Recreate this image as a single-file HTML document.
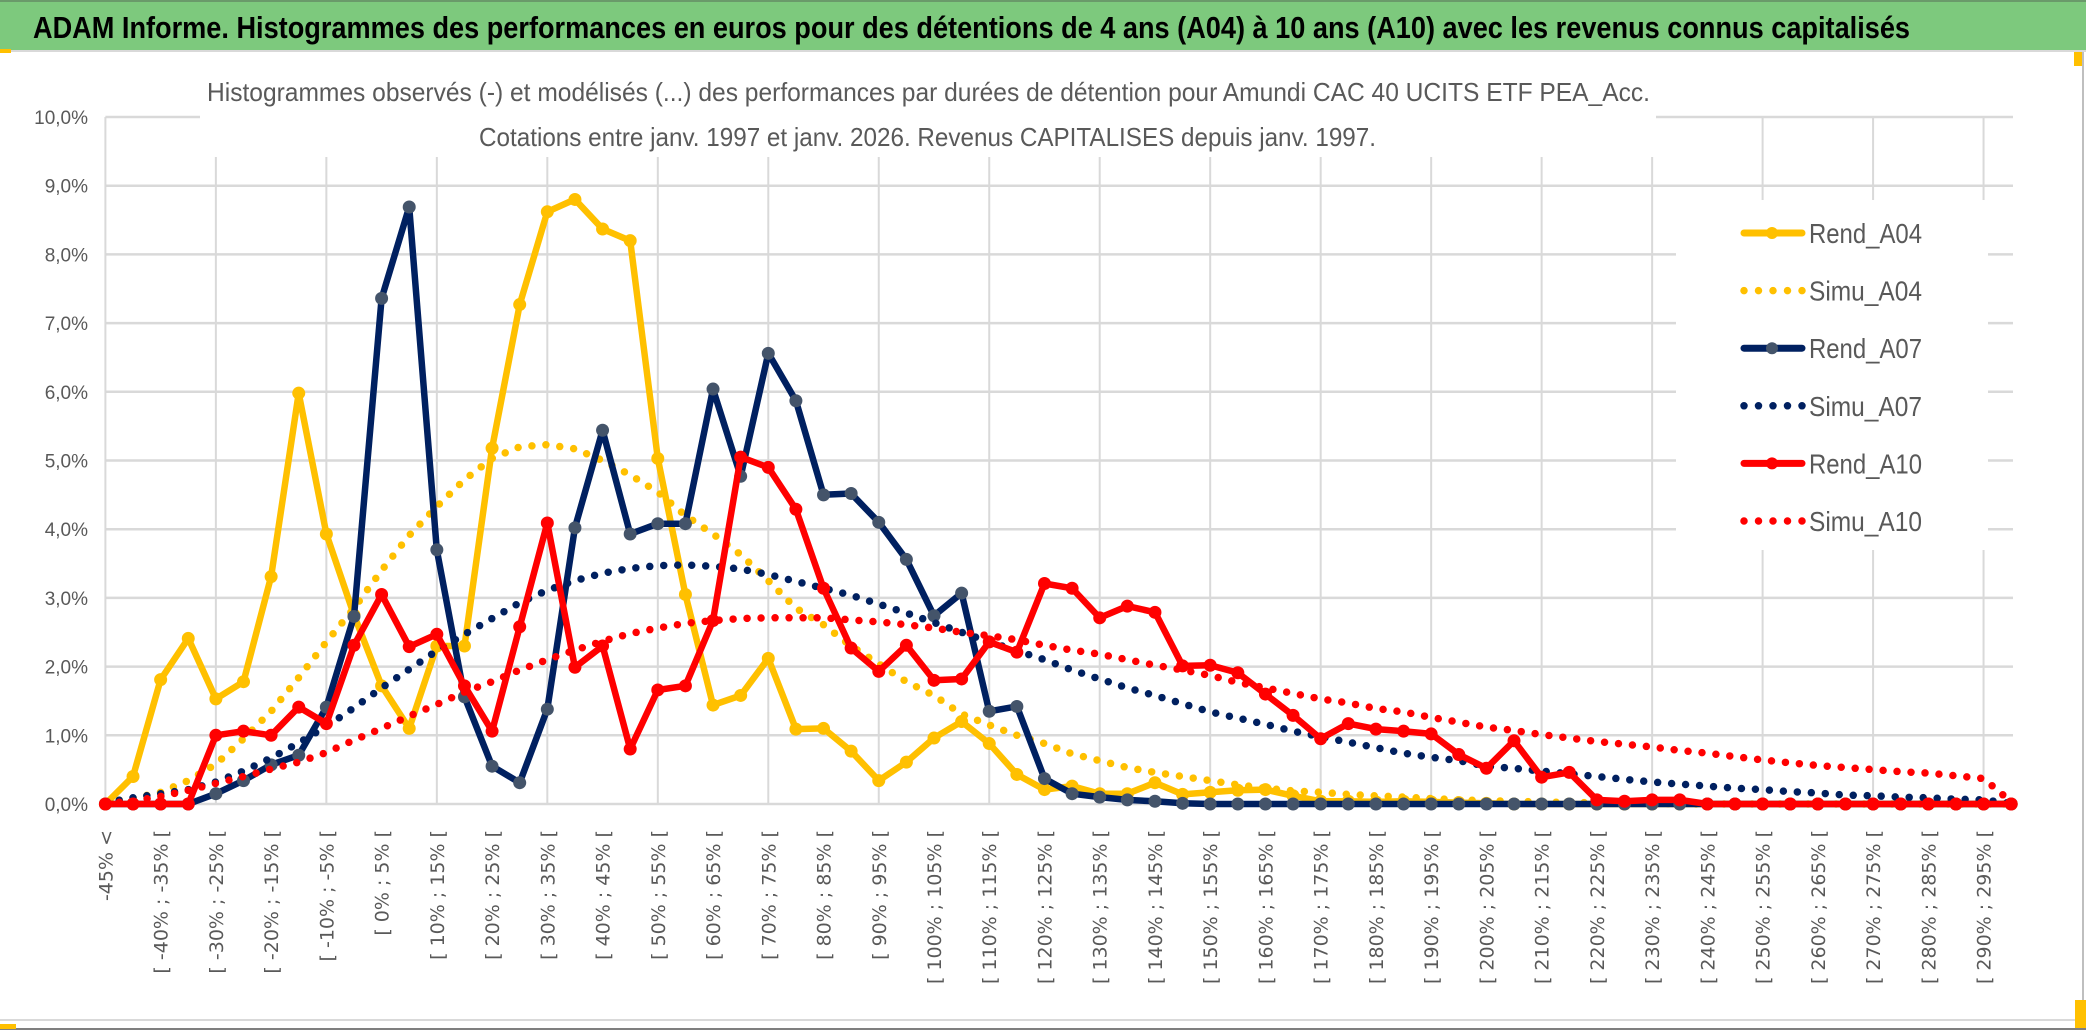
<!DOCTYPE html>
<html><head><meta charset="utf-8">
<style>
html,body{margin:0;padding:0;background:#fff;}
svg{display:block;}
text{font-family:"Liberation Sans Narrow","Liberation Sans",sans-serif;}
.xl{font-family:"DejaVu Sans","Liberation Sans",sans-serif;font-size:19px;fill:#595959;}
</style></head>
<body>
<svg id="chart" width="2086" height="1031" viewBox="0 0 2086 1031" xmlns="http://www.w3.org/2000/svg">
  <rect x="0" y="0" width="2086" height="1031" fill="#fff"/>
  <rect x="0" y="0" width="2086" height="50" fill="#7dc97d"/>
  <line x1="0" y1="1" x2="2086" y2="1" stroke="#6a9a6a" stroke-width="2"/>
  <line x1="0" y1="51" x2="2086" y2="51" stroke="#d9d9d9" stroke-width="2"/>
  <text x="33" y="38" font-size="31" font-weight="bold" fill="#000" textLength="1877" lengthAdjust="spacingAndGlyphs">ADAM Informe. Histogrammes des performances en euros pour des détentions de 4 ans (A04) à 10 ans (A10) avec les revenus connus capitalisés</text>
  <rect x="0" y="49" width="11" height="4" fill="#ffc000"/>
  <rect x="2074" y="52" width="8" height="14" fill="#ffc000"/>
  <line x1="2083" y1="52" x2="2083" y2="1028" stroke="#bfbfbf" stroke-width="2"/>
  <line x1="0" y1="1020" x2="2083" y2="1020" stroke="#d9d9d9" stroke-width="2"/>
  <line x1="0" y1="1029" x2="2086" y2="1029" stroke="#7f7f7f" stroke-width="2"/>
  <rect x="2075" y="1000" width="11" height="28" fill="#ffc000"/>
  <rect x="0" y="1024" width="16" height="5" fill="#ffc000"/>
  <g id="grid"></g>
  <g id="yaxis"></g>
  <rect x="200" y="60" width="1456" height="97" fill="#fff"/>
  <text x="207" y="101" font-size="26" fill="#595959" textLength="1443" lengthAdjust="spacingAndGlyphs">Histogrammes observés (-) et modélisés (...) des performances par durées de détention pour Amundi CAC 40 UCITS ETF PEA_Acc.</text>
  <text x="479" y="146" font-size="26" fill="#595959" textLength="897" lengthAdjust="spacingAndGlyphs">Cotations entre janv. 1997 et janv. 2026. Revenus CAPITALISES depuis janv. 1997.</text>
  <rect x="1676" y="200" width="312" height="350" fill="#fff"/>
  <g id="xaxis"></g>
  <g id="series"></g>
  <g id="legend"></g>
</svg>
<script>
const categories = ["-45% <","[ -45% ; -40% [","[ -40% ; -35% [","[ -35% ; -30% [","[ -30% ; -25% [","[ -25% ; -20% [","[ -20% ; -15% [","[ -15% ; -10% [","[ -10% ; -5% [","[ -5% ; 0% [","[ 0% ; 5% [","[ 5% ; 10% [","[ 10% ; 15% [","[ 15% ; 20% [","[ 20% ; 25% [","[ 25% ; 30% [","[ 30% ; 35% [","[ 35% ; 40% [","[ 40% ; 45% [","[ 45% ; 50% [","[ 50% ; 55% [","[ 55% ; 60% [","[ 60% ; 65% [","[ 65% ; 70% [","[ 70% ; 75% [","[ 75% ; 80% [","[ 80% ; 85% [","[ 85% ; 90% [","[ 90% ; 95% [","[ 95% ; 100% [","[ 100% ; 105% [","[ 105% ; 110% [","[ 110% ; 115% [","[ 115% ; 120% [","[ 120% ; 125% [","[ 125% ; 130% [","[ 130% ; 135% [","[ 135% ; 140% [","[ 140% ; 145% [","[ 145% ; 150% [","[ 150% ; 155% [","[ 155% ; 160% [","[ 160% ; 165% [","[ 165% ; 170% [","[ 170% ; 175% [","[ 175% ; 180% [","[ 180% ; 185% [","[ 185% ; 190% [","[ 190% ; 195% [","[ 195% ; 200% [","[ 200% ; 205% [","[ 205% ; 210% [","[ 210% ; 215% [","[ 215% ; 220% [","[ 220% ; 225% [","[ 225% ; 230% [","[ 230% ; 235% [","[ 235% ; 240% [","[ 240% ; 245% [","[ 245% ; 250% [","[ 250% ; 255% [","[ 255% ; 260% [","[ 260% ; 265% [","[ 265% ; 270% [","[ 270% ; 275% [","[ 275% ; 280% [","[ 280% ; 285% [","[ 285% ; 290% [","[ 290% ; 295% [","[ 295% ; 300% ["];
const yTicks = [0,1,2,3,4,5,6,7,8,9,10];
const yTickLabels = ["0,0%","1,0%","2,0%","3,0%","4,0%","5,0%","6,0%","7,0%","8,0%","9,0%","10,0%"];
const rendA04 = [0,0.40,1.81,2.41,1.53,1.78,3.31,5.98,3.93,2.75,1.72,1.10,2.30,2.30,5.18,7.27,8.62,8.80,8.37,8.20,5.03,3.05,1.44,1.58,2.12,1.09,1.10,0.77,0.34,0.61,0.96,1.20,0.88,0.43,0.21,0.26,0.15,0.15,0.31,0.14,0.17,0.20,0.21,0.12,0.04,0.04,0.03,0.04,0.03,0.02,0.01,0,0,0,0,0,0,0,0,0,0,0,0,0,0,0,0,0,0,0];
const simuA04 = [0.03,0.08,0.17,0.34,0.58,0.95,1.35,1.84,2.36,2.85,3.40,3.91,4.33,4.72,5.03,5.20,5.23,5.17,5.00,4.79,4.54,4.20,3.93,3.63,3.25,2.85,2.61,2.30,2.04,1.78,1.58,1.31,1.15,1.00,0.88,0.73,0.63,0.53,0.46,0.40,0.34,0.28,0.23,0.19,0.17,0.14,0.12,0.10,0.08,0.06,0.05,0.04,0.03,0.02,0.02,0.01,0.01,0,0,0,0,0,0,0,0,0,0,0,0,0];
const rendA07 = [0,0,0,0,0.15,0.34,0.57,0.71,1.41,2.73,7.36,8.69,3.70,1.56,0.55,0.31,1.38,4.02,5.44,3.93,4.08,4.08,6.04,4.77,6.56,5.87,4.50,4.52,4.10,3.56,2.74,3.07,1.35,1.42,0.37,0.15,0.10,0.06,0.04,0.01,0,0,0,0,0,0,0,0,0,0,0,0,0,0,0,0,0,0,0,0,0,0,0,0,0,0,0,0,0,0];
const simuA07 = [0.02,0.09,0.15,0.21,0.32,0.48,0.67,0.89,1.13,1.40,1.69,1.96,2.23,2.47,2.70,2.93,3.11,3.25,3.36,3.43,3.47,3.48,3.46,3.42,3.34,3.24,3.14,3.04,2.91,2.78,2.64,2.50,2.36,2.23,2.10,1.95,1.82,1.69,1.58,1.46,1.34,1.25,1.16,1.06,0.98,0.90,0.82,0.74,0.68,0.63,0.55,0.52,0.48,0.44,0.40,0.36,0.32,0.29,0.26,0.23,0.21,0.18,0.16,0.13,0.12,0.10,0.09,0.07,0.06,0.01];
const rendA10 = [0,0,0,0,1.00,1.06,1.00,1.41,1.17,2.31,3.05,2.29,2.47,1.72,1.06,2.58,4.09,1.99,2.30,0.80,1.66,1.72,2.67,5.05,4.90,4.29,3.14,2.27,1.93,2.31,1.80,1.82,2.36,2.21,3.21,3.14,2.71,2.88,2.79,2.01,2.02,1.91,1.60,1.29,0.95,1.17,1.09,1.06,1.02,0.72,0.52,0.92,0.39,0.46,0.06,0.04,0.06,0.06,0,0,0,0,0,0,0,0,0,0,0,0];
const simuA10 = [0.01,0.04,0.11,0.20,0.30,0.40,0.51,0.61,0.75,0.93,1.10,1.28,1.45,1.63,1.78,1.95,2.10,2.24,2.37,2.48,2.56,2.63,2.67,2.70,2.71,2.71,2.71,2.68,2.65,2.61,2.56,2.50,2.45,2.39,2.31,2.24,2.18,2.10,2.02,1.95,1.87,1.77,1.69,1.61,1.53,1.47,1.39,1.34,1.26,1.19,1.12,1.07,1.01,0.96,0.91,0.87,0.83,0.78,0.74,0.69,0.64,0.60,0.56,0.53,0.50,0.47,0.45,0.41,0.37,0.03];
const seriesNames = ["Rend_A04","Simu_A04","Rend_A07","Simu_A07","Rend_A10","Simu_A10"];

const NS = "http://www.w3.org/2000/svg";
const X0 = 105.4, DX = 27.62, Y0 = 804, DY = 68.7;
function xPos(i){ return X0 + DX * i; }
function yPos(v){ return Y0 - DY * v; }
function mk(tag, attrs, parent){
  const e = document.createElementNS(NS, tag);
  for (const k in attrs) e.setAttribute(k, attrs[k]);
  parent.appendChild(e);
  return e;
}
const grid = document.getElementById('grid');
const yaxis = document.getElementById('yaxis');
const xaxis = document.getElementById('xaxis');
const seriesG = document.getElementById('series');
const legend = document.getElementById('legend');
const xRight = 2013;

yTicks.forEach((t, k) => {
  const ln = mk('line', {x1: X0, x2: xRight, y1: yPos(t), y2: yPos(t), stroke: '#d9d9d9', 'stroke-width': 2.5}, grid);
  
  
  const tx = mk('text', {x: 88, y: yPos(t) + 7, 'text-anchor': 'end', 'font-size': 19, fill: '#595959'}, yaxis);
  tx.textContent = yTickLabels[k];
  
  
});
for (let i = 0; i < categories.length; i += 4) {
  const ln = mk('line', {x1: xPos(i), x2: xPos(i), y1: yPos(10), y2: Y0, stroke: '#d9d9d9', 'stroke-width': 2}, grid);
  
  
}
for (let i = 0; i < categories.length; i += 2) {
  const x = xPos(i) + 7, y = 830;
  const tx = mk('text', {x: x, y: y, 'text-anchor': 'end', transform: 'rotate(-90 ' + x + ' ' + y + ')', class: 'xl'}, xaxis);
  tx.textContent = categories[i];
  
  
}

function pathOf(arr){
  return arr.map((v, i) => (i ? 'L' : 'M') + xPos(i).toFixed(1) + ' ' + yPos(v).toFixed(1)).join(' ');
}
function drawRend(arr, color, mcolor, name){
  const g = mk('g', {}, seriesG);
  
  
  const p = mk('path', {d: pathOf(arr), fill: 'none', stroke: color, 'stroke-width': 6.5, 'stroke-linejoin': 'round'}, g);
  
  
  arr.forEach((v, i) => {
    const c = mk('circle', {cx: xPos(i), cy: yPos(v), r: 6.5, fill: mcolor}, g);
    
    
  });
}
function drawSimu(arr, color, name){
  const p = mk('path', {d: pathOf(arr), fill: 'none', stroke: color, 'stroke-width': 7.5, 'stroke-linecap': 'round', 'stroke-dasharray': '0 14'}, seriesG);
  
  
}
drawRend(rendA04, '#ffc000', '#ffc000', 'rend-a04');
drawSimu(simuA04, '#ffc000', 'simu-a04');
drawRend(rendA07, '#002060', '#44546a', 'rend-a07');
drawSimu(simuA07, '#002060', 'simu-a07');
drawRend(rendA10, '#ff0000', '#ff0000', 'rend-a10');
drawSimu(simuA10, '#ff0000', 'simu-a10');

const legColors = ['#ffc000','#ffc000','#002060','#002060','#ff0000','#ff0000'];
const legMarker = ['#ffc000',null,'#44546a',null,'#ff0000',null];
seriesNames.forEach((n, k) => {
  const cy = 233 + 57.6 * k;
  const g = mk('g', {}, legend);
  
  
  if (k % 2 === 0) {
    mk('line', {x1: 1744, x2: 1802, y1: cy, y2: cy, stroke: legColors[k], 'stroke-width': 7, 'stroke-linecap': 'round'}, g);
    mk('circle', {cx: 1772, cy: cy, r: 6, fill: legMarker[k]}, g);
  } else {
    mk('line', {x1: 1744, x2: 1804, y1: cy, y2: cy, stroke: legColors[k], 'stroke-width': 7.5, 'stroke-linecap': 'round', 'stroke-dasharray': '0 14.5'}, g);
  }
  const t = mk('text', {x: 1809, y: cy + 10, 'font-size': 28, fill: '#595959', textLength: 113, lengthAdjust: 'spacingAndGlyphs'}, g);
  t.textContent = n;
});
</script>
</body></html>
